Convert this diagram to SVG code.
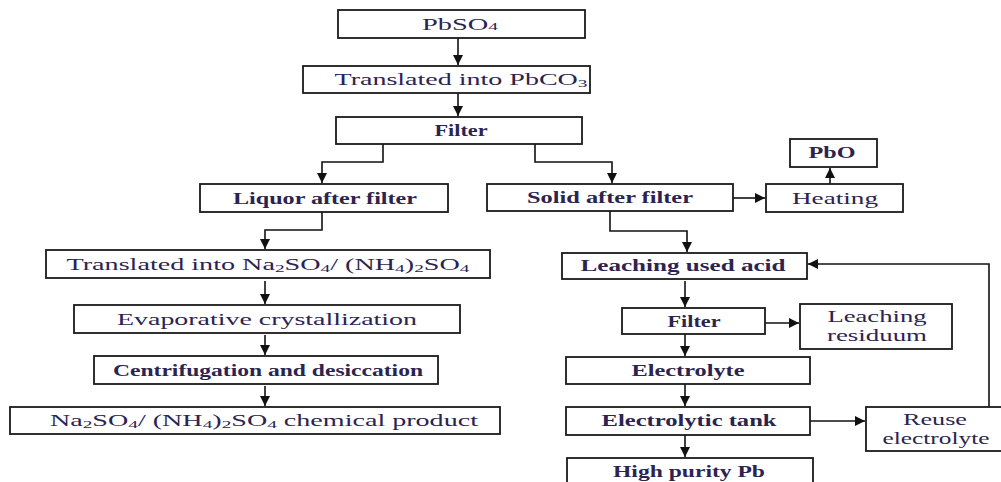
<svg xmlns="http://www.w3.org/2000/svg" width="1001" height="482" viewBox="0 0 1001 482">
<style>
.b{fill:#fff;stroke:#1a1a1a;stroke-width:1.8}
.t{font-family:'Liberation Serif','DejaVu Serif',serif;font-size:16px;fill:#2b2450;text-anchor:middle}
.bd{font-weight:bold}
.c{fill:none;stroke:#111;stroke-width:1.6;marker-end:url(#ah)}
</style>
<defs>
<marker id="ah" markerUnits="userSpaceOnUse" markerWidth="11" markerHeight="10" refX="10" refY="5" orient="auto">
<path d="M0,0 L10,5 L0,10 z" fill="#111"/>
</marker>
</defs>
<rect width="1001" height="482" fill="#fff"/>
<g id="connectors">
<path class="c" d="M458 38 V65"/>
<path class="c" d="M458 93 V116"/>
<path class="c" d="M383 144 V162 H322 V183"/>
<path class="c" d="M535 144 V162 H612 V183"/>
<path class="c" d="M322 212 V230 H265 V249"/>
<path class="c" d="M265 281 V304"/>
<path class="c" d="M265 335 V355"/>
<path class="c" d="M265 386 V406"/>
<path class="c" d="M733 198 H765"/>
<path class="c" d="M830 184 V168"/>
<path class="c" d="M610 211 V231 H687 V252"/>
<path class="c" d="M685 281 V307"/>
<path class="c" d="M765 323 H799"/>
<path class="c" d="M685 334 V356"/>
<path class="c" d="M685 384 V406"/>
<path class="c" d="M810 421 H865"/>
<path class="c" d="M989 407 V264 H808"/>
<path class="c" d="M685 435 V457"/>
</g>
<g font-family="Liberation Serif, DejaVu Serif, serif">
<g id="n_pbso4"><rect class="b" x="338" y="10" width="247" height="28"/><text class="t" x="460" y="30" textLength="76" lengthAdjust="spacingAndGlyphs">PbSO<tspan font-size="11">4</tspan></text></g>
<g id="n_pbco3"><rect class="b" x="303" y="66" width="287" height="27"/><text class="t" x="461" y="85" textLength="253" lengthAdjust="spacingAndGlyphs">Translated  into PbCO<tspan font-size="11" dy="2">3</tspan></text></g>
<g id="n_filter1"><rect class="b" x="336" y="117" width="246" height="27"/><text class="t bd" x="461" y="136" textLength="53" lengthAdjust="spacingAndGlyphs">Filter</text></g>
<g id="n_liquor"><rect class="b" x="200" y="184" width="248" height="28"/><text class="t bd" x="325" y="204" textLength="184" lengthAdjust="spacingAndGlyphs">Liquor after filter</text></g>
<g id="n_transna"><rect class="b" x="46" y="250" width="444" height="28"/><text class="t" x="268" y="270" textLength="403" lengthAdjust="spacingAndGlyphs">Translated  into Na<tspan font-size="11" dy="2">2</tspan><tspan dy="-2">SO</tspan><tspan font-size="11" dy="2">4</tspan><tspan dy="-2">/ (NH</tspan><tspan font-size="11" dy="2">4</tspan><tspan dy="-2">)</tspan><tspan font-size="11" dy="2">2</tspan><tspan dy="-2">SO</tspan><tspan font-size="11" dy="2">4</tspan></text></g>
<g id="n_evap"><rect class="b" x="74" y="305" width="386" height="28"/><text class="t" x="267" y="325" textLength="300" lengthAdjust="spacingAndGlyphs">Evaporative crystallization</text></g>
<g id="n_centr"><rect class="b" x="94" y="356" width="344" height="28"/><text class="t bd" x="268" y="376" textLength="310" lengthAdjust="spacingAndGlyphs">Centrifugation and desiccation</text></g>
<g id="n_product"><rect class="b" x="10" y="407" width="490" height="27"/><text class="t" x="264" y="426" textLength="428" lengthAdjust="spacingAndGlyphs">Na<tspan font-size="11" dy="2">2</tspan><tspan dy="-2">SO</tspan><tspan font-size="11" dy="2">4</tspan><tspan dy="-2">/ (NH</tspan><tspan font-size="11" dy="2">4</tspan><tspan dy="-2">)</tspan><tspan font-size="11" dy="2">2</tspan><tspan dy="-2">SO</tspan><tspan font-size="11" dy="2">4</tspan><tspan dy="-2"> chemical product</tspan></text></g>
<g id="n_solid"><rect class="b" x="487" y="184" width="246" height="27"/><text class="t bd" x="610" y="203" textLength="166" lengthAdjust="spacingAndGlyphs">Solid after filter</text></g>
<g id="n_heating"><rect class="b" x="766" y="184" width="137" height="28"/><text class="t" x="835" y="204" textLength="86" lengthAdjust="spacingAndGlyphs">Heating</text></g>
<g id="n_pbo"><rect class="b" x="790" y="139" width="87" height="28"/><text class="t bd" x="832" y="158" textLength="47" lengthAdjust="spacingAndGlyphs">PbO</text></g>
<g id="n_leach"><rect class="b" x="562" y="253" width="245" height="26"/><text class="t bd" x="683" y="271" textLength="205" lengthAdjust="spacingAndGlyphs">Leaching used acid</text></g>
<g id="n_filter2"><rect class="b" x="622" y="308" width="143" height="26"/><text class="t bd" x="694" y="327" textLength="53" lengthAdjust="spacingAndGlyphs">Filter</text></g>
<g id="n_residuum"><rect class="b" x="800" y="304" width="152" height="45"/><text class="t" x="877" y="322" textLength="99" lengthAdjust="spacingAndGlyphs">Leaching</text><text class="t" x="877" y="341" textLength="100" lengthAdjust="spacingAndGlyphs">residuum</text></g>
<g id="n_electrolyte"><rect class="b" x="566" y="357" width="244" height="27"/><text class="t bd" x="688" y="376" textLength="113" lengthAdjust="spacingAndGlyphs">Electrolyte</text></g>
<g id="n_tank"><rect class="b" x="566" y="407" width="244" height="28"/><text class="t bd" x="689" y="426" textLength="175" lengthAdjust="spacingAndGlyphs">Electrolytic tank</text></g>
<g id="n_reuse"><rect class="b" x="866" y="407" width="140" height="44"/><text class="t" x="935" y="425" textLength="64" lengthAdjust="spacingAndGlyphs">Reuse</text><text class="t" x="936" y="444" textLength="107" lengthAdjust="spacingAndGlyphs">electrolyte</text></g>
<g id="n_highpb"><rect class="b" x="567" y="458" width="246" height="32"/><text class="t bd" x="689" y="477" textLength="152" lengthAdjust="spacingAndGlyphs">High purity Pb</text></g>
</g>
</svg>
